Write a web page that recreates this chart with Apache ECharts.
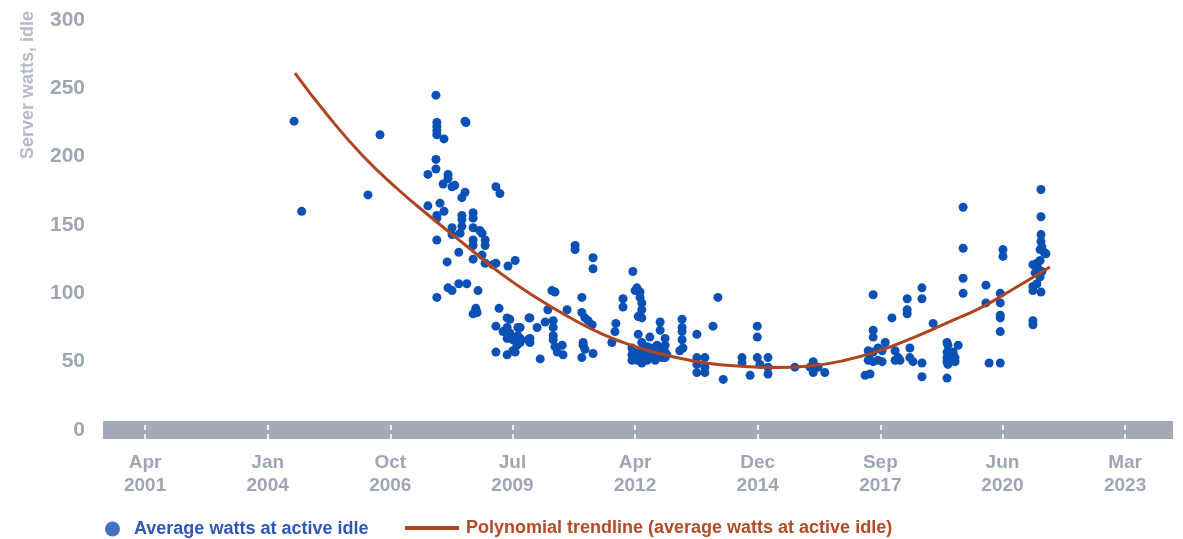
<!DOCTYPE html>
<html>
<head>
<meta charset="utf-8">
<title>Server watts at active idle</title>
<script src="https://cdn.jsdelivr.net/npm/echarts@6/dist/echarts.min.js"></script>
<style>
  html, body { margin: 0; padding: 0; background: #fff; }
  #chart { width: 1183px; height: 539px; }
</style>
</head>
<body>
<div id="chart"></div>
<script>
// tick positions (decimal years) and their labels
var tickYears = [2001.30, 2004.04, 2006.78, 2009.51, 2012.25, 2014.99, 2017.73, 2020.46, 2023.20];
var tickLabels = ['Apr\n2001', 'Jan\n2004', 'Oct\n2006', 'Jul\n2009', 'Apr\n2012',
                  'Dec\n2014', 'Sep\n2017', 'Jun\n2020', 'Mar\n2023'];

// average watts at active idle: [year, watts]
var idleWatts = [
  [2004.63, 226], [2004.80, 160], [2006.28, 172], [2006.55, 216],
  [2007.80, 245], [2007.82, 225], [2007.82, 222], [2007.82, 219], [2007.82, 216], [2007.98, 213],
  [2008.47, 225], [2008.45, 226],
  [2007.80, 198], [2007.80, 191], [2007.62, 187], [2008.07, 187], [2008.07, 184], [2007.96, 180],
  [2008.16, 178], [2008.22, 179], [2008.45, 174], [2008.38, 170], [2009.14, 178], [2009.23, 173],
  [2007.62, 164], [2007.89, 166], [2007.98, 160], [2007.82, 157], [2007.82, 155], [2008.38, 157],
  [2008.38, 154], [2008.63, 159], [2008.63, 155],
  [2008.16, 148], [2008.38, 149], [2008.63, 148], [2008.78, 146], [2008.83, 144], [2008.34, 144],
  [2008.16, 143], [2008.63, 139], [2008.63, 135], [2008.90, 139], [2008.90, 135], [2007.82, 139],
  [2008.31, 130], [2008.05, 123], [2008.63, 125], [2008.83, 128], [2008.90, 122], [2009.07, 121],
  [2009.14, 122], [2009.41, 120], [2009.57, 124],
  [2007.82, 97], [2008.07, 104], [2008.16, 102], [2008.31, 107], [2008.49, 107], [2008.74, 102],
  [2008.69, 89], [2008.72, 86], [2008.63, 85],
  [2009.21, 89], [2009.39, 82], [2009.45, 81], [2009.14, 76], [2009.39, 75], [2009.63, 75],
  [2009.30, 72], [2009.45, 71], [2009.39, 67], [2009.52, 66], [2009.63, 69], [2009.61, 62],
  [2009.52, 58], [2009.14, 57], [2009.39, 55], [2009.57, 57], [2009.88, 82], [2009.86, 66],
  [2009.90, 82], [2009.68, 75], [2009.68, 67], [2009.68, 64], [2010.06, 75], [2010.24, 79],
  [2010.42, 80], [2010.42, 75], [2010.42, 69], [2010.42, 66], [2010.46, 61], [2010.51, 57],
  [2010.62, 62], [2010.64, 55],
  [2010.39, 102], [2010.46, 101], [2010.30, 88], [2010.73, 88], [2009.90, 67], [2009.90, 64],
  [2010.13, 52],
  [2011.06, 97], [2011.06, 86], [2011.13, 82], [2011.20, 80], [2011.29, 77], [2011.09, 64],
  [2011.09, 62], [2011.13, 59], [2011.06, 53], [2011.31, 56],
  [2010.91, 135], [2010.91, 132], [2011.31, 126], [2011.31, 118],
  [2011.73, 64], [2011.82, 78], [2011.80, 72], [2011.98, 96], [2011.98, 90],
  [2012.20, 116], [2012.29, 104], [2012.25, 102], [2012.36, 101], [2012.36, 97], [2012.40, 93],
  [2012.40, 88], [2012.36, 84], [2012.40, 82], [2012.32, 83], [2012.32, 70],
  [2012.18, 60], [2012.18, 55], [2012.18, 51], [2012.29, 56], [2012.29, 51], [2012.40, 64],
  [2012.40, 58], [2012.40, 53], [2012.40, 49], [2012.52, 61], [2012.52, 55], [2012.52, 51],
  [2012.58, 68], [2012.63, 58], [2012.65, 53], [2012.74, 62], [2012.76, 56], [2012.85, 58],
  [2012.85, 53], [2012.81, 79], [2012.81, 73], [2012.92, 67], [2012.92, 62], [2012.92, 57],
  [2012.92, 53], [2012.25, 53], [2012.47, 57], [2012.70, 51], [2012.96, 55], [2012.60, 60],
  [2012.20, 57],
  [2013.30, 81], [2013.30, 72], [2013.30, 66], [2013.25, 58], [2013.32, 60], [2013.30, 75],
  [2013.63, 70], [2013.63, 53], [2013.63, 48], [2013.63, 42], [2013.81, 53], [2013.81, 46],
  [2013.81, 42], [2013.99, 76], [2014.10, 97], [2014.22, 37],
  [2014.64, 53], [2014.64, 49], [2014.82, 40], [2014.98, 76], [2014.98, 68], [2014.98, 53],
  [2015.04, 48], [2015.22, 53], [2015.22, 46], [2015.22, 41],
  [2015.82, 46], [2016.16, 46], [2016.23, 50], [2016.23, 42], [2016.34, 46], [2016.49, 42],
  [2017.39, 40], [2017.50, 41], [2017.57, 99], [2017.57, 73], [2017.57, 68], [2017.46, 58],
  [2017.50, 56], [2017.57, 57], [2017.68, 60], [2017.77, 58], [2017.46, 51], [2017.57, 50],
  [2017.68, 51], [2017.77, 50], [2017.84, 64],
  [2017.99, 82], [2018.06, 58], [2018.13, 53], [2018.06, 51], [2018.17, 51],
  [2018.33, 96], [2018.33, 88], [2018.33, 85], [2018.39, 60], [2018.39, 53], [2018.46, 50],
  [2018.66, 104], [2018.66, 96], [2018.66, 49], [2018.66, 39], [2018.91, 78],
  [2019.22, 64], [2019.24, 62], [2019.22, 57], [2019.22, 53], [2019.22, 50], [2019.24, 48],
  [2019.22, 38], [2019.36, 57], [2019.40, 53], [2019.40, 50], [2019.47, 62],
  [2019.58, 163], [2019.58, 133], [2019.58, 111], [2019.58, 100],
  [2020.09, 106], [2020.09, 93], [2020.16, 49],
  [2020.41, 100], [2020.41, 93], [2020.41, 84], [2020.41, 82], [2020.41, 72], [2020.41, 49],
  [2020.47, 132], [2020.47, 127],
  [2021.14, 80], [2021.14, 77], [2021.32, 176], [2021.32, 156], [2021.32, 143], [2021.32, 138],
  [2021.34, 134], [2021.30, 132], [2021.39, 130], [2021.43, 129],
  [2021.14, 121], [2021.23, 122], [2021.30, 124], [2021.26, 118], [2021.34, 116], [2021.19, 115],
  [2021.30, 112], [2021.14, 105], [2021.14, 102], [2021.32, 101], [2021.23, 107]
];

// polynomial trendline at even steps: [year, watts]
var trendPoints = [
  [2004.65, 261.2], [2005.41, 229.0], [2006.17, 200.5], [2006.93, 176.7], [2007.71, 155.1],
  [2008.47, 135.0], [2009.23, 115.0], [2010.01, 97.5], [2010.77, 82.7], [2011.53, 70.0],
  [2012.31, 60.4], [2013.07, 53.8], [2013.83, 49.1], [2014.62, 46.6], [2015.38, 45.7],
  [2016.14, 46.8], [2016.92, 50.8], [2017.68, 57.8], [2018.44, 67.3], [2019.22, 78.4],
  [2019.98, 89.6], [2020.74, 103.9], [2021.52, 119.3]
];

var FONT = "'Liberation Sans', Arial, sans-serif";
var GREY = '#9ea6b6';
var TREND = '#b0441e';

var chart = echarts.init(document.getElementById('chart'));

function tickLabel(v) {
  var best = 0;
  for (var i = 1; i < tickYears.length; i++) {
    if (Math.abs(tickYears[i] - v) < Math.abs(tickYears[best] - v)) best = i;
  }
  return tickLabels[best];
}

var option = {
  backgroundColor: '#fff',
  animation: false,
  grid: { left: 103, right: 10, top: 20, bottom: 109 },
  graphic: [{
    type: 'text',
    x: 28,
    y: 85,
    rotation: Math.PI / 2,
    style: {
      text: 'Server watts, idle',
      fill: '#b3bac8',
      font: 'bold 18px ' + FONT,
      align: 'center',
      verticalAlign: 'middle'
    }
  }],
  legend: [{
    left: 105,
    top: 520,
    padding: 0,
    itemWidth: 15,
    itemHeight: 15,
    selectedMode: false,
    textStyle: { fontFamily: FONT, fontWeight: 'bold', fontSize: 18, padding: [0, 0, 0, 9] },
    data: [{
      name: 'Average watts at active idle',
      icon: 'circle',
      itemStyle: { color: '#4472c4' },
      textStyle: { color: '#2f55b5' }
    }]
  }, {
    left: 405,
    top: 519,
    padding: 0,
    itemWidth: 54,
    itemHeight: 4,
    selectedMode: false,
    textStyle: { fontFamily: FONT, fontWeight: 'bold', fontSize: 18, padding: [0, 0, 0, 2] },
    data: [{
      name: 'Polynomial trendline (average watts at active idle)',
      icon: 'rect',
      itemStyle: { color: TREND },
      textStyle: { color: '#b34a26' }
    }]
  }],
  xAxis: [{
    type: 'value',
    min: 2000.36,
    max: 2024.27,
    position: 'bottom',
    offset: 4,
    splitLine: { show: false },
    axisLine: { show: true, lineStyle: { color: '#a2a9b7', width: 18, cap: 'butt' } },
    axisTick: {
      show: true, inside: true, length: 5, customValues: tickYears,
      lineStyle: { color: '#eef0f4', width: 2 }
    },
    axisLabel: {
      customValues: tickYears,
      formatter: tickLabel,
      margin: 17,
      color: GREY,
      fontFamily: FONT,
      fontWeight: 'bold',
      fontSize: 19,
      lineHeight: 23
    }
  }, {
    // second copy of the axis only to draw the lower half of each tick
    type: 'value',
    min: 2000.36,
    max: 2024.27,
    position: 'bottom',
    offset: 4,
    splitLine: { show: false },
    axisLine: { show: false },
    axisLabel: { show: false },
    axisTick: {
      show: true, inside: false, length: 5, customValues: tickYears,
      lineStyle: { color: '#eef0f4', width: 2 }
    }
  }],
  yAxis: {
    type: 'value',
    min: 0,
    max: 300,
    interval: 50,
    splitLine: { show: false },
    axisLine: { show: false },
    axisTick: { show: false },
    axisLabel: {
      margin: 18,
      color: GREY,
      fontFamily: FONT,
      fontWeight: 'bold',
      fontSize: 21
    }
  },
  series: [{
    name: 'Average watts at active idle',
    type: 'scatter',
    symbolSize: 9,
    itemStyle: { color: '#0a50b5', opacity: 1 },
    data: idleWatts
  }, {
    name: 'Polynomial trendline (average watts at active idle)',
    type: 'line',
    smooth: true,
    symbol: 'none',
    showSymbol: false,
    lineStyle: { color: TREND, width: 3 },
    itemStyle: { color: TREND },
    z: 3,
    data: trendPoints
  }]
};

chart.setOption(option);
</script>
</body>
</html>
